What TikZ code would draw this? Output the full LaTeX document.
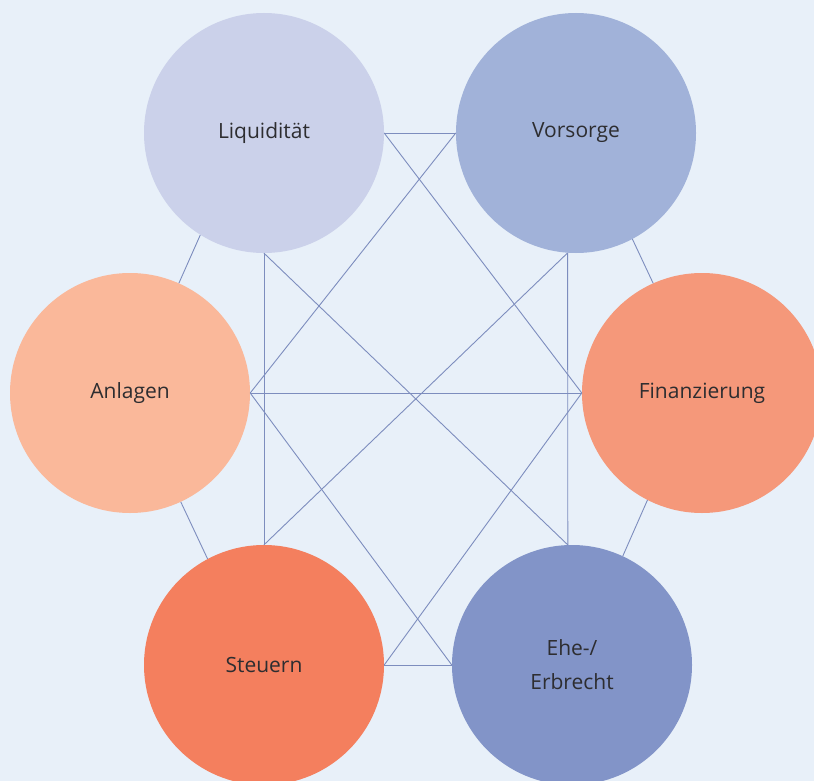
\documentclass[tikz,border=0pt]{standalone}
\usepackage{fontspec}
\setmainfont{Open Sans}
\usetikzlibrary{positioning}

\definecolor{bgblue}{RGB}{232,240,249}
\definecolor{linkblue}{RGB}{125,141,190}
\definecolor{textgray}{RGB}{45,45,48}
\definecolor{liqcol}{RGB}{203,209,234}
\definecolor{vorcol}{RGB}{161,178,217}
\definecolor{anlcol}{RGB}{250,184,154}
\definecolor{fincol}{RGB}{245,152,122}
\definecolor{stecol}{RGB}{244,127,94}
\definecolor{ehecol}{RGB}{130,148,200}

\begin{document}
\begin{tikzpicture}[x=1pt,y=-1pt,on grid,
	topic/.style={circle,minimum size=240pt,inner sep=0pt,text=textgray,
		font=\fontsize{21}{34}\selectfont,align=center},
	link/.style={draw=linkblue,line width=0.9pt}]
	\clip (0,0) rectangle (814,781);
	\fill[bgblue] (0,0) rectangle (814,781);

	\node[topic,fill=liqcol] (liq) at (264,133) {Liquidität};
	\node[topic,fill=vorcol] (vor) [right=312pt of liq] {Vorsorge};
	\node[topic,fill=anlcol] (anl) [below left=260pt and 134pt of liq] {Anlagen};
	\node[topic,fill=fincol] (fin) [right=572pt of anl] {Finanzierung};
	\node[topic,fill=stecol] (ste) [below=532pt of liq] {Steuern};
	\node[topic,fill=ehecol] (ehe) [right=308pt of ste] {Ehe-/\\Erbrecht};

	\path[link]

	(liq.east) edge (vor.west)
	           edge (fin.west)

	(anl.east) edge (vor.west)
	           edge (fin.west)
	           edge (ehe.west)

	(ste.east) edge (ehe.west)
	           edge (fin.west)

	(liq.south) edge (ste.north)
	            edge (ehe.92)

	(vor.266) edge (ehe.92)
	          edge (ste.north)

	(liq.238) edge (anl.66)
	(vor.298) edge (fin.114)
	(anl.295) edge (ste.118)
	(fin.243) edge (ehe.65);

\end{tikzpicture}
\end{document}
